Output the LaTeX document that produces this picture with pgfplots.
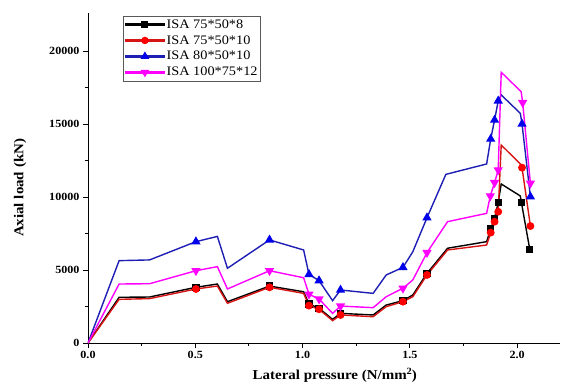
\documentclass[border=0pt]{standalone}
\usepackage{pgfplots}
\usepackage{pgfplotstable}
\pgfplotsset{compat=1.18}
\usepackage{fontspec}
\setmainfont{Liberation Serif}[FakeStretch=1.1]
\definecolor{cblk}{RGB}{0,0,0}
\definecolor{cred}{RGB}{255,0,0}
\definecolor{credl}{RGB}{215,20,20}
\definecolor{cblu}{RGB}{0,0,235}
\definecolor{cblul}{RGB}{30,30,180}
\definecolor{cmag}{RGB}{255,0,255}
\pgfplotstableread{
x y m
0 0 0
0.145 3130 0
0.287 3150 0
0.503 3815 1
0.603 4040 0
0.650 2830 0
0.846 3900 1
1.005 3510 0
1.030 2670 1
1.077 2380 1
1.140 1620 0
1.177 2030 1
1.329 1920 0
1.390 2600 0
1.468 2900 1
1.514 3290 0
1.580 4770 1
1.676 6490 0
1.858 6940 0
1.877 7800 1
1.895 8540 1
1.912 9620 1
1.926 10890 0
2.015 10070 0
2.020 9640 1
2.059 6420 1
}\tblk
\pgfplotstableread{
x y m
0 0 0
0.145 2990 0
0.287 3040 0
0.503 3700 1
0.603 3900 0
0.650 2720 0
0.846 3815 1
1.005 3400 0
1.030 2560 1
1.077 2310 1
1.140 1530 0
1.177 1920 1
1.329 1800 0
1.390 2490 0
1.468 2830 1
1.514 3170 0
1.580 4660 1
1.676 6370 0
1.858 6710 0
1.877 7560 1
1.895 8310 1
1.912 8990 1
1.926 13560 0
2.015 12260 0
2.023 12010 1
2.062 8010 1
}\tred
\pgfplotstableread{
x y m
0 0 0
0.145 5640 0
0.287 5690 0
0.503 6940 1
0.603 7300 0
0.650 5120 0
0.846 7060 1
1.005 6370 0
1.030 4700 1
1.077 4270 1
1.140 2900 0
1.177 3630 1
1.329 3400 0
1.390 4660 0
1.468 5180 1
1.514 6250 0
1.580 8580 1
1.668 11550 0
1.858 12260 0
1.877 13970 1
1.895 15270 1
1.912 16580 1
1.926 16990 0
2.015 15730 0
2.023 15000 1
2.062 10020 1
}\tblu
\pgfplotstableread{
x y m
0 0 0
0.145 4040 0
0.287 4060 0
0.503 4950 1
0.603 5230 0
0.650 3700 0
0.846 4950 1
1.005 4470 0
1.030 3340 1
1.077 3010 1
1.140 2030 0
1.177 2530 1
1.329 2420 0
1.390 3170 0
1.468 3750 1
1.514 4320 0
1.580 6190 1
1.676 8310 0
1.858 8880 0
1.875 10070 1
1.895 10980 1
1.912 11850 1
1.926 18540 0
2.019 17210 0
2.026 16460 1
2.062 10940 1
}\tmag
\begin{document}
\begin{tikzpicture}
\begin{axis}[
  scale only axis, width=472pt, height=330pt,
  xmin=0, xmax=2.2, ymin=0, ymax=22600,
  axis x line*=bottom, axis y line*=left,
  axis line style={line width=0.9pt},
  tick align=outside, minor tick num=1,
  major tick length=5pt, minor tick length=3pt,
  tick style={line width=0.9pt, black},
  xtick={0,0.5,1,1.5,2}, ytick={0,5000,10000,15000,20000},
  scaled y ticks=false,
  /pgf/number format/assume math mode=true,
  x tick label style={font=\fontsize{11}{12}\selectfont\bfseries,
    /pgf/number format/fixed,/pgf/number format/fixed zerofill,/pgf/number format/precision=1},
  y tick label style={font=\fontsize{11}{12}\selectfont\bfseries,
    /pgf/number format/1000 sep={}},
  xlabel={Lateral pressure (N/mm$^{\mathbf{2}}$)},
  ylabel={Axial load (kN)},
  label style={font=\fontsize{13.6}{15}\selectfont\bfseries},
  xlabel style={at={(axis description cs:0.523,-0.097)}, anchor=center},
  ylabel style={at={(axis description cs:-0.144,0.47)}, anchor=center},
  legend style={at={(0.074,0.992)}, anchor=north west, draw=gray!70!black, line width=0.6pt,
    font=\fontsize{13}{14}\selectfont, row sep=1.8pt, inner sep=1.5pt,
    nodes={inner xsep=1.5pt}},
  legend cell align=left,
  every axis plot/.append style={line width=1.4pt},
]
\addplot[cblk, mark=none, legend image code/.code={
    \fill[cblk] (0pt,-0.7pt) rectangle (39pt,0.7pt);
    \draw[cblk, line width=1pt, mark=square*, mark size=3pt] plot coordinates {(19.5pt,0pt)};}] table[x=x,y=y] {\tblk};
\addlegendentry{ISA 75*50*8}
\addplot[cblk, only marks, mark=square*, mark size=3pt, forget plot,
  restrict expr to domain={\thisrow{m}}{0.5:1.5}] table[x=x,y=y] {\tblk};
\addplot[credl, mark=none, legend image code/.code={
    \fill[credl] (0pt,-0.7pt) rectangle (39pt,0.7pt);
    \draw[cred, line width=1pt, mark=*, mark size=3.2pt] plot coordinates {(19.5pt,0pt)};}] table[x=x,y=y] {\tred};
\addlegendentry{ISA 75*50*10}
\addplot[cred, only marks, mark=*, mark size=3.2pt, forget plot,
  restrict expr to domain={\thisrow{m}}{0.5:1.5}] table[x=x,y=y] {\tred};
\addplot[cblul, mark=none, legend image code/.code={
    \fill[cblul] (0pt,-0.7pt) rectangle (39pt,0.7pt);
    \draw[cblu, line width=1pt, mark=triangle*, mark size=4pt] plot coordinates {(19.5pt,0pt)};}] table[x=x,y=y] {\tblu};
\addlegendentry{ISA 80*50*10}
\addplot[cblu, only marks, mark=triangle*, mark size=4pt, forget plot,
  restrict expr to domain={\thisrow{m}}{0.5:1.5}] table[x=x,y=y] {\tblu};
\addplot[cmag, mark=none, legend image code/.code={
    \fill[cmag] (0pt,-0.7pt) rectangle (39pt,0.7pt);
    \draw[cmag, line width=1pt, mark=triangle*, mark size=4pt, mark options={rotate=180}] plot coordinates {(19.5pt,0pt)};}] table[x=x,y=y] {\tmag};
\addlegendentry{ISA 100*75*12}
\addplot[cmag, only marks, mark=triangle*, mark size=4pt, mark options={rotate=180}, forget plot,
  restrict expr to domain={\thisrow{m}}{0.5:1.5}] table[x=x,y=y] {\tmag};
\end{axis}
\pgfresetboundingbox
\path (-88pt,-46pt) rectangle (476pt,343pt);
\end{tikzpicture}
\end{document}
